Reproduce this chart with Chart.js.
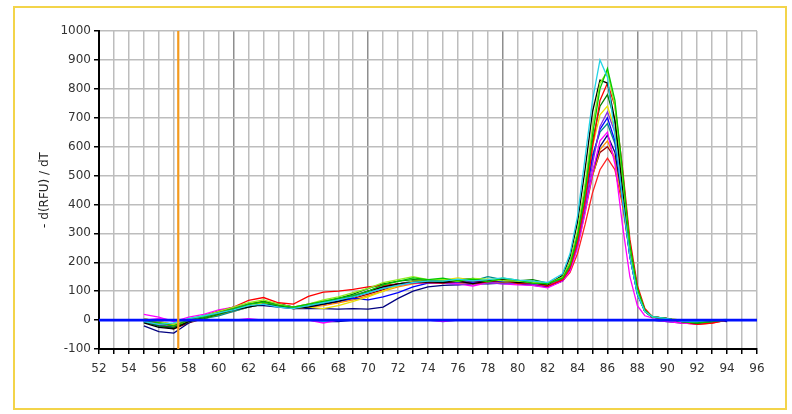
<!DOCTYPE html>
<html>
<head>
<meta charset="utf-8">
<title>Melt Peak</title>
<script src="https://cdn.jsdelivr.net/npm/chart.js@4.4.1/dist/chart.umd.min.js"></script>
<style>
  html, body { margin:0; padding:0; background:#fff; }
  #wrap { position:relative; width:792px; height:414px; }
  #frame { position:absolute; left:13px; top:6px; width:770px; height:400px; border:2px solid #f3d44a; pointer-events:none; }
</style>
</head>
<body>
<div id="wrap">
  <canvas id="meltChart" width="792" height="414"></canvas>
  <div id="frame"></div>
</div>
<script>
/* ===== Melt peak chart: -d(RFU)/dT vs temperature ===== */

const temps = [
  55, 56, 57, 58, 59, 60, 61, 62, 63, 64,
  65, 66, 67, 68, 69, 70, 71, 72, 73, 74,
  75, 76, 77, 78, 79, 80, 81, 82, 83,
  83.5, 84, 84.5, 85, 85.5, 86, 86.5, 87, 87.5, 88, 88.5, 89,
  90, 91, 92, 93, 94
];

// positive wells
const wellCyan = [
  -5, -15, -10, 5, 15, 25, 35, 50, 55, 45,
  40, 50, 60, 70, 80, 95, 110, 120, 130, 135,
  135, 142, 136, 140, 146, 138, 135, 130, 160,
  230, 360, 560, 760, 900, 840, 640, 420, 220, 90, 30, 12,
  5, -5, -5, 0, 2
];
const wellGreen = [
  0, -10, -20, 0, 10, 25, 40, 55, 62, 50,
  45, 55, 65, 75, 85, 100, 122, 134, 146, 140,
  145, 136, 142, 132, 145, 138, 128, 126, 145,
  190, 290, 440, 640, 800, 870, 760, 520, 260, 110, 35, 12,
  5, -5, -10, -5, 0
];
const wellLime = [
  5, -5, -15, 5, 15, 30, 45, 60, 70, 55,
  45, 55, 70, 80, 95, 110, 130, 140, 150, 140,
  140, 134, 144, 142, 136, 135, 130, 125, 150,
  200, 310, 470, 670, 820, 860, 740, 500, 250, 100, 30, 10,
  5, 0, -5, 0, 0
];
const wellBlack = [
  -10, -25, -30, -5, 10, 25, 35, 45, 55, 50,
  40, 45, 55, 65, 80, 100, 115, 125, 130, 132,
  130, 135, 126, 135, 138, 130, 130, 122, 155,
  220, 340, 520, 720, 830, 820, 690, 460, 240, 100, 30, 10,
  5, -5, -10, 0, 0
];
const wellRed = [
  0, -10, -20, 0, 15, 30, 45, 68, 78, 60,
  55, 82, 97, 100, 106, 115, 120, 125, 130, 130,
  128, 135, 125, 132, 138, 126, 130, 118, 140,
  180, 270, 410, 600, 760, 820, 740, 530, 280, 120, 40, 12,
  5, -5, -15, -10, 0
];
const wellDarkGreen = [
  -5, -20, -25, -5, 5, 20, 35, 55, 65, 55,
  45, 50, 60, 75, 90, 110, 125, 135, 140, 138,
  135, 138, 144, 134, 140, 136, 140, 128, 150,
  200, 300, 450, 620, 740, 780, 690, 490, 260, 110, 35, 12,
  5, -5, -10, -5, 0
];
const wellYellow = [
  0, -10, -20, -5, 5, 20, 35, 50, 60, 50,
  40, 45, 40, 50, 65, 80, 100, 120, 135, 140,
  138, 146, 138, 140, 144, 135, 130, 125, 148,
  200, 300, 440, 600, 710, 740, 660, 470, 250, 105, 35, 12,
  5, -5, -5, 0, 0
];
const wellPurple = [
  0, -15, -20, 0, 10, 25, 35, 50, 60, 50,
  40, 50, 60, 70, 85, 100, 115, 125, 130, 130,
  128, 122, 128, 130, 125, 128, 125, 120, 140,
  180, 260, 390, 540, 670, 720, 650, 460, 240, 100, 30, 10,
  5, -5, -10, -5, 0
];
const wellBlue = [
  -5, -20, -25, -5, 10, 20, 35, 50, 60, 55,
  45, 50, 55, 65, 75, 70, 80, 95, 115, 128,
  130, 132, 130, 132, 135, 130, 125, 120, 140,
  190, 280, 410, 560, 660, 700, 620, 430, 220, 90, 30, 10,
  5, -5, -10, -5, 0
];
const wellTeal = [
  -5, -15, -25, -5, 5, 15, 30, 45, 55, 50,
  45, 50, 60, 70, 80, 95, 110, 125, 135, 138,
  135, 138, 136, 150, 140, 135, 130, 125, 145,
  195, 290, 420, 570, 650, 680, 610, 440, 230, 95, 30, 10,
  5, -5, -10, -5, 0
];
const wellMagenta = [
  20, 10, -5, 10, 20, 35, 45, 55, 60, 50,
  40, 45, 55, 65, 80, 95, 110, 120, 128, 130,
  130, 125, 118, 130, 125, 122, 120, 112, 135,
  170, 250, 370, 510, 620, 650, 540, 330, 150, 50, 15, 8,
  5, -10, -15, -5, 0
];
const wellNavy = [
  -20, -40, -45, -10, 15, 30, 45, 50, 50, 45,
  40, 40, 40, 38, 40, 38, 45, 75, 100, 115,
  120, 122, 125, 125, 128, 125, 120, 115, 135,
  175, 260, 380, 510, 600, 640, 580, 420, 220, 90, 30, 10,
  5, -5, -10, -5, 0
];
const wellOrange = [
  0, -10, -15, 0, 10, 20, 30, 45, 55, 50,
  40, 45, 50, 60, 70, 85, 100, 115, 125, 130,
  128, 130, 128, 130, 130, 128, 122, 118, 138,
  175, 255, 370, 500, 590, 620, 560, 410, 220, 95, 30, 10,
  5, 0, -5, 0, 0
];
const wellMaroon = [
  -5, -20, -30, -10, 5, 20, 35, 50, 60, 55,
  45, 50, 55, 65, 75, 90, 105, 120, 130, 135,
  132, 130, 132, 135, 132, 128, 125, 120, 140,
  180, 260, 380, 500, 580, 600, 560, 420, 230, 100, 35, 12,
  5, -5, -10, -5, 0
];
const wellRedLow = [
  5, -5, -15, 0, 15, 30, 40, 55, 65, 55,
  45, 55, 65, 75, 85, 100, 115, 125, 130, 132,
  130, 128, 130, 132, 130, 128, 124, 118, 135,
  165, 230, 330, 440, 520, 560, 520, 400, 230, 100, 35, 12,
  5, -10, -15, -10, 0
];

// no-template controls, flat near zero
const ntcMagenta = [
  0, 5, 0, 0, 0, 0, 0, 5, 0, 0,
  0, 0, -10, 0, 0, 0, 0, 0, 0, 0,
  -5, 0, 0, 0, 0, 0, 0, 0, 0,
  0, 0, 0, 0, 0, 0, 0, 0, 0, 0, 0, 0,
  -5, -10, -5, 0, 0
];
const ntcCyan = [
  0, 0, 0, 0, 0, 0, 0, 0, 0, 0,
  0, 0, -5, 0, 0, 0, 0, 0, 0, 0,
  -5, 0, 0, 0, 0, 0, 0, 0, 0,
  0, 0, 0, 0, 0, 0, 0, 0, 0, 0, 0, 0,
  -5, 0, -5, 0, 0
];
const ntcNavy = [
  0, 0, 0, 0, 0, 0, 0, 0, 0, 0,
  0, 0, -5, -5, 0, 0, 0, 0, 0, 0,
  0, 0, 0, 0, 0, 0, 0, 0, 0,
  0, 0, 0, 0, 0, 0, 0, 0, 0, 0, 0, 0,
  -5, -10, -5, 0, -5
];

const meltCursor = 57.3;     // orange temperature cursor
const baselineLevel = 0;     // blue threshold line
const xRange = [52, 96];
const yRange = [-100, 1000];

const curves = [
  [wellCyan, '#22d3e6'], [wellGreen, '#00c800'], [wellLime, '#90ee20'],
  [wellBlack, '#000000'], [wellRed, '#ff0000'], [wellDarkGreen, '#008000'],
  [wellYellow, '#e8e000'], [wellPurple, '#8a2be2'], [wellBlue, '#0000ff'],
  [wellTeal, '#008b8b'], [wellMagenta, '#ff00ff'], [wellNavy, '#000080'],
  [wellOrange, '#ff8c00'], [wellMaroon, '#a00000'], [wellRedLow, '#ff2020'],
  [ntcMagenta, '#ff00ff'], [ntcCyan, '#00e0f0'], [ntcNavy, '#000090']
];

const FONT = { family: 'DejaVu Sans', size: 12 };

const datasets = [
  {
    data: [{ x: meltCursor, y: yRange[0] }, { x: meltCursor, y: yRange[1] }],
    borderColor: '#f39a1e', borderWidth: 2.2, order: 0
  },
  {
    data: [{ x: xRange[0], y: baselineLevel }, { x: xRange[1], y: baselineLevel }],
    borderColor: '#0010ff', borderWidth: 2.6, order: 1
  },
  ...curves.map(([vals, color]) => ({
    data: temps.map((t, i) => ({ x: t, y: vals[i] })),
    borderColor: color, borderWidth: 1.3, order: 2
  }))
];

new Chart(document.getElementById('meltChart'), {
  type: 'line',
  data: { datasets },
  options: {
    responsive: false,
    animation: false,
    elements: { point: { radius: 0 }, line: { tension: 0 } },
    layout: { padding: { top: 31, right: 35, left: 0, bottom: 0 } },
    plugins: { legend: { display: false }, tooltip: { enabled: false } },
    scales: {
      x: {
        type: 'linear', min: xRange[0], max: xRange[1],
        afterFit: s => { s.height = 65; },
        border: { color: '#000', width: 2 },
        grid: {
          color: c => (c.tick && (c.tick.value - 52) % 9 === 0) ? '#8e8e8e' : '#bdbdbd',
          lineWidth: 1.5, tickLength: 5, tickColor: '#000'
        },
        ticks: {
          stepSize: 1, autoSkip: false, maxTicksLimit: 100, maxRotation: 0,
          padding: 8, color: '#333', font: FONT,
          callback: v => v % 2 === 0 ? String(v) : ''
        }
      },
      y: {
        min: yRange[0], max: yRange[1],
        afterFit: s => { s.width = 99; },
        border: { color: '#000', width: 2 },
        grid: { color: '#bdbdbd', lineWidth: 1.5, tickLength: 5, tickColor: '#000' },
        ticks: {
          stepSize: 100, maxTicksLimit: 20, padding: 3, color: '#333', font: FONT,
          callback: v => String(v)
        },
        title: {
          display: true, text: '- d(RFU) / dT', color: '#222', font: FONT,
          padding: { top: 38, bottom: 0 }
        }
      }
    }
  }
});
</script>
</body>
</html>
